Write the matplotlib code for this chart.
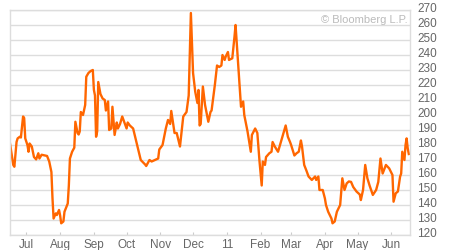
import numpy as np
import pandas as pd
import matplotlib
matplotlib.use('Agg')
import matplotlib.pyplot as plt
import matplotlib.transforms as mtrans

# days after 2010-06-16 and price
days = [0, 3, 4, 6, 7, 9, 10, 12, 13, 14, 16, 17, 18, 20, 22, 24, 26, 27, 29, 32,
        34, 36, 38, 39, 40, 42, 43, 45, 46, 47, 49, 50, 53, 54, 55, 57, 59, 60, 62, 63,
        64, 65, 67, 69, 70, 72, 74, 76, 77, 78, 79, 80, 81, 83, 85, 87, 88, 90, 91, 93,
        94, 96, 98, 99, 101, 103, 105, 107, 108, 110, 113, 116, 119, 120, 124, 125, 128, 130, 133, 136,
        137, 140, 143, 145, 147, 148, 151, 153, 156, 159, 162, 164, 166, 168, 170, 172, 173, 174, 175, 177,
        179, 182, 184, 185, 188, 190, 192, 194, 195, 197, 198, 200, 201, 204, 206, 207, 208, 210, 212, 214,
        215, 218, 221, 222, 225, 227, 229, 231, 232, 234, 235, 238, 240, 241, 243, 246, 249, 251, 253, 255,
        257, 258, 261, 263, 265, 267, 268, 270, 272, 274, 277, 280, 281, 283, 284, 287, 289, 290, 292, 295,
        296, 298, 300, 303, 304, 305, 307, 309, 311, 313, 315, 318, 321, 322, 324, 326, 328, 330, 333, 336,
        338, 340, 342, 345, 348, 351, 352, 354, 356, 358, 359, 360, 362, 363, 364, 365, 366]
price = [181, 166.7, 165.5, 182, 184.4, 185.5, 185, 199, 198, 184.4, 180, 175.5, 181, 179, 172, 170.4, 174.5, 171, 173.5, 173,
         172.7, 169, 162, 144.4, 131, 134.4, 133.3, 136.7, 133, 127.8, 129, 135.5, 141, 153, 171, 175.5, 178.2, 195.5, 188, 187,
         189, 202, 200, 206.7, 225.5, 228, 229.3, 230, 216.7, 213, 185.5, 189, 222, 214, 211, 210, 203, 209, 190, 191,
         205.5, 186.7, 195, 191, 194, 199, 195, 191, 195, 193, 191, 182, 173, 170, 167, 166, 170, 169, 170, 171,
         177, 180, 191, 196.7, 194, 202.7, 188, 188, 179, 199, 202, 213, 268, 228, 215.5, 208, 216.7, 193, 194, 219,
         206.7, 195.5, 202, 203, 220, 233, 232, 233, 240, 236.7, 239, 242, 236.7, 237.8, 252, 260, 249, 226.7, 205.5, 209,
         200, 189, 175.5, 186.7, 191, 188, 169, 153, 169, 166.7, 172, 174.5, 175.5, 182, 179, 175.5, 183, 188, 193, 185.5,
         182, 180, 173, 174.5, 175.5, 183, 179, 166.7, 163, 159, 156.7, 159, 156.7, 159, 150, 150, 144.4, 140, 135.5, 131,
         127.8, 129, 135.5, 140, 149, 157.8, 150, 154.4, 155.7, 155.4, 152, 149, 147, 143.3, 150, 166.7, 157.8, 153, 146.7, 150,
         155.4, 171, 161, 166.7, 164.4, 160, 142.2, 147.8, 149, 158.9, 161, 175.5, 170, 180, 184.4, 177.8, 174]

month_starts = ['2010-07-01', '2010-08-01', '2010-09-01', '2010-10-01', '2010-11-01', '2010-12-01',
                '2011-01-01', '2011-02-01', '2011-03-01', '2011-04-01', '2011-05-01', '2011-06-01']
month_labels = ['Jul', 'Aug', 'Sep', 'Oct', 'Nov', 'Dec', '11', 'Feb', 'Mar', 'Apr', 'May', 'Jun']
y_ticks = list(range(120, 271, 10))

start = pd.Timestamp('2010-06-16')
dates = start + pd.to_timedelta(days, unit='D')

plt.rcParams['font.family'] = ['Liberation Sans', 'DejaVu Sans']

fig = plt.figure(figsize=(4.5, 2.5), dpi=100)
ax = fig.add_axes([10/450, 15/250, 400/450, 225/250])

ax.plot(dates, price, color='#ff6600', lw=1.7, solid_joinstyle='round')

ax.set_xlim(start, start + pd.Timedelta(days=367.1))
ax.set_ylim(120, 270)

ax.set_yticks(y_ticks)
ax.yaxis.tick_right()
ax.tick_params(axis='y', length=0, pad=5, labelsize=8.5, labelcolor='#666666')
off = mtrans.ScaledTranslation(0, 2/72, fig.dpi_scale_trans)
for lbl in ax.get_yticklabels():
    lbl.set_transform(lbl.get_transform() + off)

ax.set_xticks(pd.to_datetime(month_starts))
ax.set_xticklabels(month_labels)
ax.tick_params(axis='x', direction='in', length=2, color='#cccccc', pad=3,
               labelsize=8.5, labelcolor='#666666')
ax.get_xticklines()[12].set_color('#ff9900')

ax.grid(axis='y', color='#dddddd', lw=1)
ax.set_axisbelow(True)
for s in ax.spines.values():
    s.set_color('#dddddd')
    s.set_linewidth(1)

ax.text(0.995, 0.955, '\u00a9 Bloomberg L.P.', transform=ax.transAxes, ha='right', va='center',
        fontsize=8, color='#bbbbbb')

fig.savefig('out.png', dpi=100)
